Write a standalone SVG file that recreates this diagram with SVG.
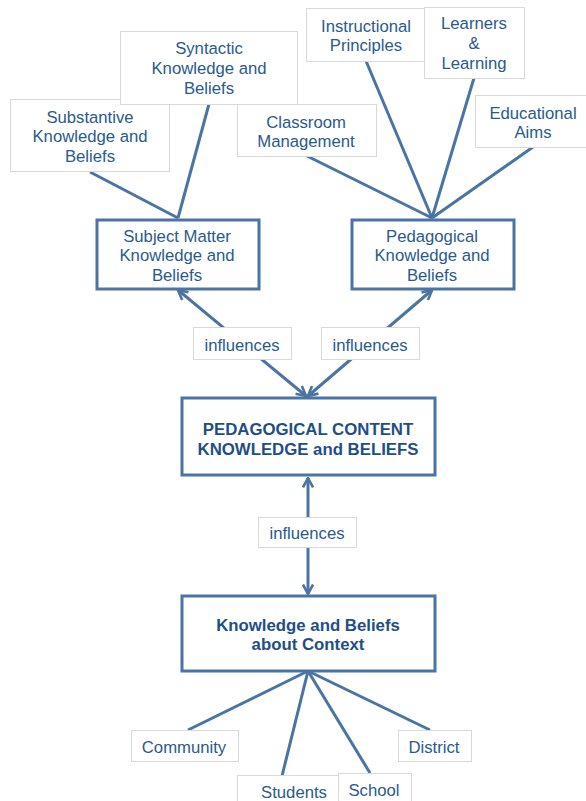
<svg xmlns="http://www.w3.org/2000/svg" width="586" height="801" viewBox="0 0 586 801">
<style>
.lb{fill:#fff;stroke:#d9d9d9;stroke-width:1}
.mb{fill:#fff;stroke:#4a74a3;stroke-width:3}
.t{font-family:"Liberation Sans",Arial,sans-serif;font-size:16.7px;fill:#2a5a8c;text-anchor:middle}
.b{font-family:"Liberation Sans",Arial,sans-serif;font-size:16.8px;font-weight:bold;fill:#1f4e87;text-anchor:middle}
.c{stroke:#4a74a3;stroke-width:3;fill:none}
</style>
<defs>
<marker id="ah" viewBox="0 0 12 12" refX="10.5" refY="6" markerWidth="12" markerHeight="12" markerUnits="userSpaceOnUse" orient="auto-start-reverse">
<path d="M1,1 L10.5,6 L1,11" fill="none" stroke="#4a74a3" stroke-width="2.6"/>
</marker>
</defs>
<rect width="586" height="801" fill="#fff"/>
<g id="connectors">
<line class="c" x1="90" y1="172" x2="178" y2="218"/>
<line class="c" x1="209" y1="104" x2="178" y2="218"/>
<line class="c" x1="307" y1="156" x2="432" y2="218"/>
<line class="c" x1="366" y1="61" x2="432" y2="218"/>
<line class="c" x1="474" y1="78" x2="432" y2="218"/>
<line class="c" x1="533" y1="147" x2="432" y2="218"/>
<line class="c" x1="178" y1="290" x2="306" y2="396" marker-start="url(#ah)" marker-end="url(#ah)"/>
<line class="c" x1="432" y1="290" x2="308" y2="396" marker-start="url(#ah)" marker-end="url(#ah)"/>
<line class="c" x1="308" y1="478" x2="308" y2="594" marker-start="url(#ah)" marker-end="url(#ah)"/>
<line class="c" x1="308" y1="671" x2="188" y2="730"/>
<line class="c" x1="308" y1="671" x2="282" y2="776"/>
<line class="c" x1="308" y1="671" x2="370" y2="773"/>
<line class="c" x1="308" y1="671" x2="430" y2="730"/>
</g>
<g id="substantive"><rect class="lb" x="10.5" y="99.5" width="159" height="72"/>
<text class="t" x="90" y="123">Substantive</text><text class="t" x="90" y="142">Knowledge and</text><text class="t" x="90" y="162">Beliefs</text></g>
<g id="syntactic"><rect class="lb" x="120.5" y="31.5" width="177" height="73"/>
<text class="t" x="209" y="54">Syntactic</text><text class="t" x="209" y="74">Knowledge and</text><text class="t" x="209" y="94">Beliefs</text></g>
<g id="classroom"><rect class="lb" x="237.5" y="104.5" width="139" height="52"/>
<text class="t" x="306" y="128">Classroom</text><text class="t" x="306" y="147">Management</text></g>
<g id="instructional"><rect class="lb" x="306.5" y="8.5" width="130" height="53"/>
<text class="t" x="366" y="32">Instructional</text><text class="t" x="366" y="51">Principles</text></g>
<g id="learners"><rect class="lb" x="424.5" y="7.5" width="100" height="71"/>
<text class="t" x="474" y="29">Learners</text><text class="t" x="474" y="49">&amp;</text><text class="t" x="474" y="69">Learning</text></g>
<g id="educational"><rect class="lb" x="475.5" y="95.5" width="112" height="52"/>
<text class="t" x="533" y="119">Educational</text><text class="t" x="533" y="138">Aims</text></g>
<g id="subject"><rect class="mb" x="97" y="220" width="162" height="69"/>
<text class="t" x="177" y="242">Subject Matter</text><text class="t" x="177" y="261">Knowledge and</text><text class="t" x="177" y="281">Beliefs</text></g>
<g id="pedagogical"><rect class="mb" x="352" y="220" width="162" height="69"/>
<text class="t" x="432" y="242">Pedagogical</text><text class="t" x="432" y="261">Knowledge and</text><text class="t" x="432" y="281">Beliefs</text></g>
<g id="inf1"><rect class="lb" x="193.5" y="327.5" width="98" height="32"/>
<text class="t" x="242" y="351">influences</text></g>
<g id="inf2"><rect class="lb" x="321.5" y="327.5" width="98" height="32"/>
<text class="t" x="370" y="351">influences</text></g>
<g id="pck"><rect class="mb" x="182" y="398" width="253" height="77"/>
<text class="b" x="308" y="435">PEDAGOGICAL CONTENT</text><text class="b" x="308" y="455">KNOWLEDGE and BELIEFS</text></g>
<g id="inf3"><rect class="lb" x="258.5" y="517.5" width="98" height="30"/>
<text class="t" x="307" y="539">influences</text></g>
<g id="context"><rect class="mb" x="182" y="596" width="253" height="75"/>
<text class="b" x="308" y="631">Knowledge and Beliefs</text><text class="b" x="308" y="650">about Context</text></g>
<g id="community"><rect class="lb" x="131.5" y="730.5" width="107" height="31"/>
<text class="t" x="184" y="753">Community</text></g>
<g id="district"><rect class="lb" x="398.5" y="730.5" width="73" height="31"/>
<text class="t" x="434" y="753">District</text></g>
<g id="students"><rect class="lb" x="237.5" y="775.5" width="110" height="30"/>
<text class="t" x="294" y="798">Students</text></g>
<g id="school"><rect class="lb" x="338.5" y="773.5" width="73" height="32"/>
<text class="t" x="374" y="796">School</text></g>
</svg>
